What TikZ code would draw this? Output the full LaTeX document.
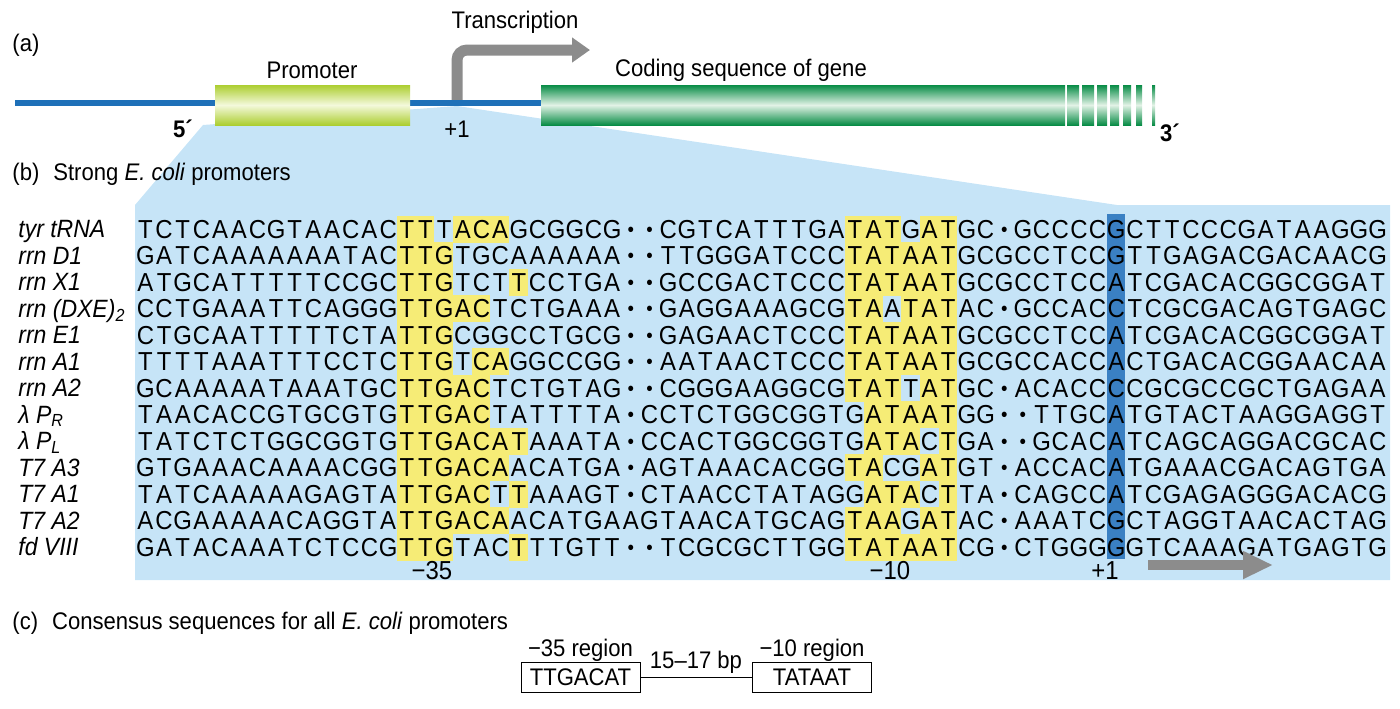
\documentclass[tikz,border=0pt]{standalone}
\usepackage{fontspec}
\setmainfont{Liberation Sans}[FakeStretch=0.92]
\usetikzlibrary{arrows.meta}
\definecolor{bgblue}{RGB}{198,228,247}
\definecolor{hlyellow}{RGB}{246,236,118}
\definecolor{tssblue}{RGB}{58,128,195}
\definecolor{dnablue}{RGB}{30,112,184}
\definecolor{arrgray}{RGB}{140,140,140}
\definecolor{promg}{RGB}{172,206,48}
\definecolor{promw}{RGB}{244,249,220}
\definecolor{codg}{RGB}{8,140,70}
\definecolor{codw}{RGB}{226,242,230}
\newlength\colw \setlength\colw{9.335pt}
\newcommand\seqdot{\raisebox{1pt}{\fontsize{10}{10}\selectfont •}}
\def\seqloop#1{\ifx#1\relax\else\makebox[\colw][c]{\ifx#1.\seqdot\else#1\fi}\expandafter\seqloop\fi}
\newcommand\seqrow[1]{\expandafter\seqloop#1\relax}
\newcommand\hl[3]{\fill[hlyellow] ({135.7+(#2-1)*18.67},{229+(#1-1)*26.5-13.5}) rectangle ({135.7+#3*18.67},{229+(#1-1)*26.5+13.5});}
\begin{document}
\begin{tikzpicture}[x=0.5pt,y=-0.5pt,
  txt/.style={font=\fontsize{12}{14}\selectfont, inner sep=0pt},
  seqtext/.style={anchor=base west, inner sep=0pt, font=\fontsize{13}{15}\selectfont},
  rowlab/.style={anchor=base west, inner sep=0pt, font=\fontsize{12.5}{14}\selectfont\itshape},
  cbox/.style={draw=black, line width=0.5pt, inner sep=0pt, minimum width=59.5pt, minimum height=15pt, font=\fontsize{12}{14}\selectfont},
  dnaline/.style={draw=dnablue, line width=3pt},
  txarrow/.style={draw=arrgray, line width=5.5pt, rounded corners=5pt, -{Triangle[length=9pt,width=12pt]}},
  grayarrow/.style={draw=arrgray, line width=5pt, -{Triangle[length=15pt,width=13pt]}},
  link/.style={draw=black, line width=0.5pt}]
\useasboundingbox (0,0) rectangle (1400,708);
% (b) background
\fill[bgblue] (203,125) -- (457,106) -- (1117,205) -- (1390,205) -- (1390,580) -- (135,580) -- (135,205) -- cycle;
% (a) gene
\coordinate (tss) at (457,103);
\coordinate (txend) at (590,50);
\draw[txarrow] (tss) |- (txend);
\draw[dnaline] (15,103) -- (541,103);
\shade[top color=promg, bottom color=promg, middle color=promw] (215,85) rectangle (410,125);
\shade[top color=codg, bottom color=codg, middle color=codw] (541,85) rectangle (1065,125);
\foreach \a/\b in {1067/1079,1082/1094,1097/1107,1110/1119,1123/1131,1136/1142,1152/1155}
  \shade[top color=codg, bottom color=codg, middle color=codw] (\a,85) rectangle (\b,125);
\node[txt] (ta) at (12,45) [anchor=west] {(a)};
\node[txt] (ttx) at (515,22) {Transcription};
\node[txt] (tprom) at (312,70) {Promoter};
\node[txt] (tcod) at (741,70) {Coding sequence of gene};
\node[txt, font=\fontsize{12}{14}\selectfont\bfseries] (t5) at (183,129) {5´};
\node[txt] (tp1) at (457,129) {+1};
\node[txt, font=\fontsize{12}{14}\selectfont\bfseries] (t3) at (1170,133) {3´};
% (b)
\node[txt, anchor=west] (tb) at (12,174) {(b)\hspace{7pt}Strong \textit{E. coli} promoters};
\hl{1}{15}{16}\hl{1}{18}{20}\hl{1}{39}{41}\hl{1}{43}{44}
\hl{2}{15}{17}\hl{2}{39}{44}
\hl{3}{15}{17}\hl{3}{21}{21}\hl{3}{39}{44}
\hl{4}{15}{19}\hl{4}{39}{40}\hl{4}{42}{44}
\hl{5}{15}{17}\hl{5}{39}{44}
\hl{6}{15}{17}\hl{6}{19}{20}\hl{6}{39}{44}
\hl{7}{15}{19}\hl{7}{39}{41}\hl{7}{43}{44}
\hl{8}{15}{19}\hl{8}{40}{44}
\hl{9}{15}{21}\hl{9}{40}{42}\hl{9}{44}{44}
\hl{10}{15}{20}\hl{10}{39}{40}\hl{10}{43}{44}
\hl{11}{15}{19}\hl{11}{21}{21}\hl{11}{40}{42}\hl{11}{44}{44}
\hl{12}{15}{20}\hl{12}{39}{41}\hl{12}{43}{44}
\hl{13}{15}{17}\hl{13}{21}{21}\hl{13}{39}{44}
\fill[tssblue] ({135.7+52*18.67+0.5},214) rectangle ({135.7+53*18.67-0.5},559);
\foreach \s [count=\ri] in {
TCTCAACGTAACACTTTACAGCGGCG..CGTCATTTGATATGATGC.GCCCCGCTTCCCGATAAGGG,
GATCAAAAAAATACTTGTGCAAAAAA..TTGGGATCCCTATAATGCGCCTCCGTTGAGACGACAACG,
ATGCATTTTTCCGCTTGTCTTCCTGA..GCCGACTCCCTATAATGCGCCTCCATCGACACGGCGGAT,
CCTGAAATTCAGGGTTGACTCTGAAA..GAGGAAAGCGTAATATAC.GCCACCTCGCGACAGTGAGC,
CTGCAATTTTTCTATTGCGGCCTGCG..GAGAACTCCCTATAATGCGCCTCCATCGACACGGCGGAT,
TTTTAAATTTCCTCTTGTCAGGCCGG..AATAACTCCCTATAATGCGCCACCACTGACACGGAACAA,
GCAAAAATAAATGCTTGACTCTGTAG..CGGGAAGGCGTATTATGC.ACACCCCGCGCCGCTGAGAA,
TAACACCGTGCGTGTTGACTATTTTA.CCTCTGGCGGTGATAATGG..TTGCATGTACTAAGGAGGT,
TATCTCTGGCGGTGTTGACATAAATA.CCACTGGCGGTGATACTGA..GCACATCAGCAGGACGCAC,
GTGAAACAAAACGGTTGACAACATGA.AGTAAACACGGTACGATGT.ACCACATGAAACGACAGTGA,
TATCAAAAAGAGTATTGACTTAAAGT.CTAACCTATAGGATACTTA.CAGCCATCGAGAGGGACACG,
ACGAAAAACAGGTATTGACAACATGAAGTAACATGCAGTAAGATAC.AAATCGCTAGGTAACACTAG,
GATACAAATCTCCGTTGTACTTTGTT..TCGCGCTTGGTATAATCG.CTGGGGGTCAAAGATGAGTG}
  \node[seqtext] (seq\ri) at (135.7,{229+(\ri-1)*26.5+9.3}) {\seqrow{\s}};
\node[rowlab] (l1) at (18,{229+0*26.5+8.6}) {tyr tRNA};
\node[rowlab] (l2) at (18,{229+1*26.5+8.6}) {rrn D1};
\node[rowlab] (l3) at (18,{229+2*26.5+8.6}) {rrn X1};
\node[rowlab] (l4) at (18,{229+3*26.5+8.6}) {rrn (DXE)\textsubscript{2}};
\node[rowlab] (l5) at (18,{229+4*26.5+8.6}) {rrn E1};
\node[rowlab] (l6) at (18,{229+5*26.5+8.6}) {rrn A1};
\node[rowlab] (l7) at (18,{229+6*26.5+8.6}) {rrn A2};
\node[rowlab] (l8) at (18,{229+7*26.5+8.6}) {λ P\textsubscript{R}};
\node[rowlab] (l9) at (18,{229+8*26.5+8.6}) {λ P\textsubscript{L}};
\node[rowlab] (l10) at (18,{229+9*26.5+8.6}) {T7 A3};
\node[rowlab] (l11) at (18,{229+10*26.5+8.6}) {T7 A1};
\node[rowlab] (l12) at (18,{229+11*26.5+8.6}) {T7 A2};
\node[rowlab] (l13) at (18,{229+12*26.5+8.6}) {fd VIII};
\node[txt, font=\fontsize{13}{15}\selectfont] (m35) at (432,571) {−35};
\node[txt, font=\fontsize{13}{15}\selectfont] (m10) at (890,571) {−10};
\node[txt, font=\fontsize{13}{15}\selectfont] (p1) at (1105,571) {+1};
\coordinate (arrS) at (1148,565);
\coordinate (arrE) at (1273,565);
\draw[grayarrow] (arrS) -- (arrE);
% (c)
\node[txt, anchor=west] (tc) at (12,623) {(c)\hspace{7pt}Consensus sequences for all \textit{E. coli} promoters};
\node[cbox] (box35) at (580.5,677) {TTGACAT};
\node[cbox] (box10) at (812,677) {TATAAT};
\draw[link] (box35) -- (box10);
\node[txt] (lab35) at (580.5,650) {−35 region};
\node[txt] (lab10) at (812,650) {−10 region};
\node[txt] (lbp) at (696,662) {15–17 bp};
\end{tikzpicture}
\end{document}
